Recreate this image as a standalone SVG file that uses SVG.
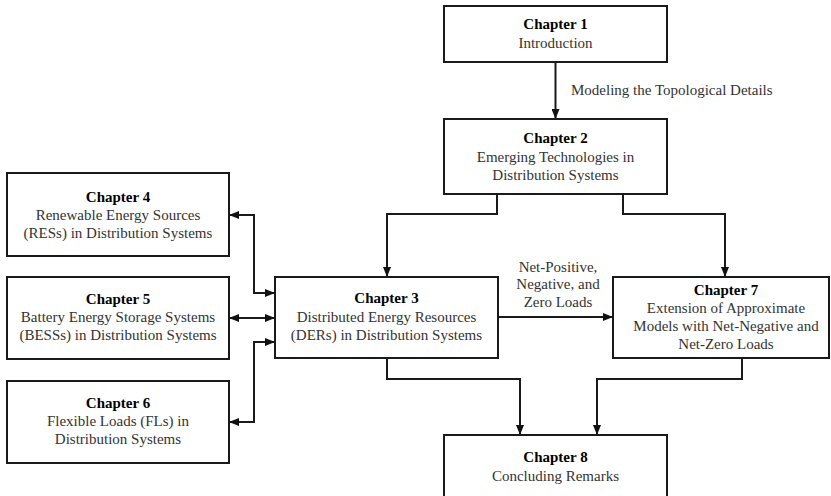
<svg xmlns="http://www.w3.org/2000/svg" width="831" height="496" viewBox="0 0 831 496">
<defs>
<marker id="ah" viewBox="0 0 10 8" refX="10" refY="4" markerWidth="10" markerHeight="8" markerUnits="userSpaceOnUse" orient="auto-start-reverse">
<path d="M0,0 L10,4 L0,8 Z" fill="#111"/>
</marker>
<style>
.box{fill:#fff;stroke:#1a1a1a;stroke-width:2}
.t{font-family:"Liberation Serif","Times New Roman",serif;font-size:15px;font-weight:bold;fill:#000;text-anchor:middle}
.b{font-family:"Liberation Serif","Times New Roman",serif;font-size:15px;fill:#333;text-anchor:middle}
.l{font-family:"Liberation Serif","Times New Roman",serif;font-size:15px;fill:#333}
.c{fill:none;stroke:#1a1a1a;stroke-width:2}
</style>
</defs>
<rect width="831" height="496" fill="#fff"/>
<g id="connectors">
<path class="c" d="M555.5,62 V119" marker-end="url(#ah)"/>
<path class="c" d="M497,194 V214 H387 V277" marker-end="url(#ah)"/>
<path class="c" d="M623,194 V214 H725 V277" marker-end="url(#ah)"/>
<path class="c" d="M498,317 H613" marker-end="url(#ah)"/>
<path class="c" d="M387,358 V379 H520 V435" marker-end="url(#ah)"/>
<path class="c" d="M742,358 V379 H597 V435" marker-end="url(#ah)"/>
<path class="c" d="M229,215 H254 V293 H275" marker-start="url(#ah)" marker-end="url(#ah)"/>
<path class="c" d="M229,318 H275" marker-start="url(#ah)" marker-end="url(#ah)"/>
<path class="c" d="M229,422 H254 V342 H275" marker-start="url(#ah)" marker-end="url(#ah)"/>
<text class="l" x="571" y="95">Modeling the Topological Details</text>
<text class="b" x="558" y="272">Net-Positive,</text>
<text class="b" x="558" y="289">Negative, and</text>
<text class="b" x="558" y="307">Zero Loads</text>
</g>
<g id="ch1">
<rect class="box" x="444" y="6" width="223" height="56"/>
<text class="t" x="555.5" y="29">Chapter 1</text>
<text class="b" x="555.5" y="48">Introduction</text>
</g>
<g id="ch2">
<rect class="box" x="444" y="119" width="223" height="75"/>
<text class="t" x="555.5" y="143">Chapter 2</text>
<text class="b" x="555.5" y="162">Emerging Technologies in</text>
<text class="b" x="555.5" y="180">Distribution Systems</text>
</g>
<g id="ch3">
<rect class="box" x="275" y="277" width="223" height="81"/>
<text class="t" x="386.5" y="303">Chapter 3</text>
<text class="b" x="386.5" y="322">Distributed Energy Resources</text>
<text class="b" x="386.5" y="340">(DERs) in Distribution Systems</text>
</g>
<g id="ch4">
<rect class="box" x="7" y="173" width="222" height="83"/>
<text class="t" x="118" y="202">Chapter 4</text>
<text class="b" x="118" y="220">Renewable Energy Sources</text>
<text class="b" x="118" y="238">(RESs) in Distribution Systems</text>
</g>
<g id="ch5">
<rect class="box" x="7" y="277" width="222" height="82"/>
<text class="t" x="118" y="304">Chapter 5</text>
<text class="b" x="118" y="322">Battery Energy Storage Systems</text>
<text class="b" x="118" y="340">(BESSs) in Distribution Systems</text>
</g>
<g id="ch6">
<rect class="box" x="7" y="381" width="222" height="82"/>
<text class="t" x="118" y="408">Chapter 6</text>
<text class="b" x="118" y="426">Flexible Loads (FLs) in</text>
<text class="b" x="118" y="444">Distribution Systems</text>
</g>
<g id="ch7">
<rect class="box" x="613" y="277" width="216" height="81"/>
<text class="t" x="726" y="295">Chapter 7</text>
<text class="b" x="726" y="313">Extension of Approximate</text>
<text class="b" x="726" y="331">Models with Net-Negative and</text>
<text class="b" x="726" y="349">Net-Zero Loads</text>
</g>
<g id="ch8">
<rect class="box" x="444" y="435" width="223" height="80"/>
<text class="t" x="555.5" y="462">Chapter 8</text>
<text class="b" x="555.5" y="481">Concluding Remarks</text>
</g>
</svg>
